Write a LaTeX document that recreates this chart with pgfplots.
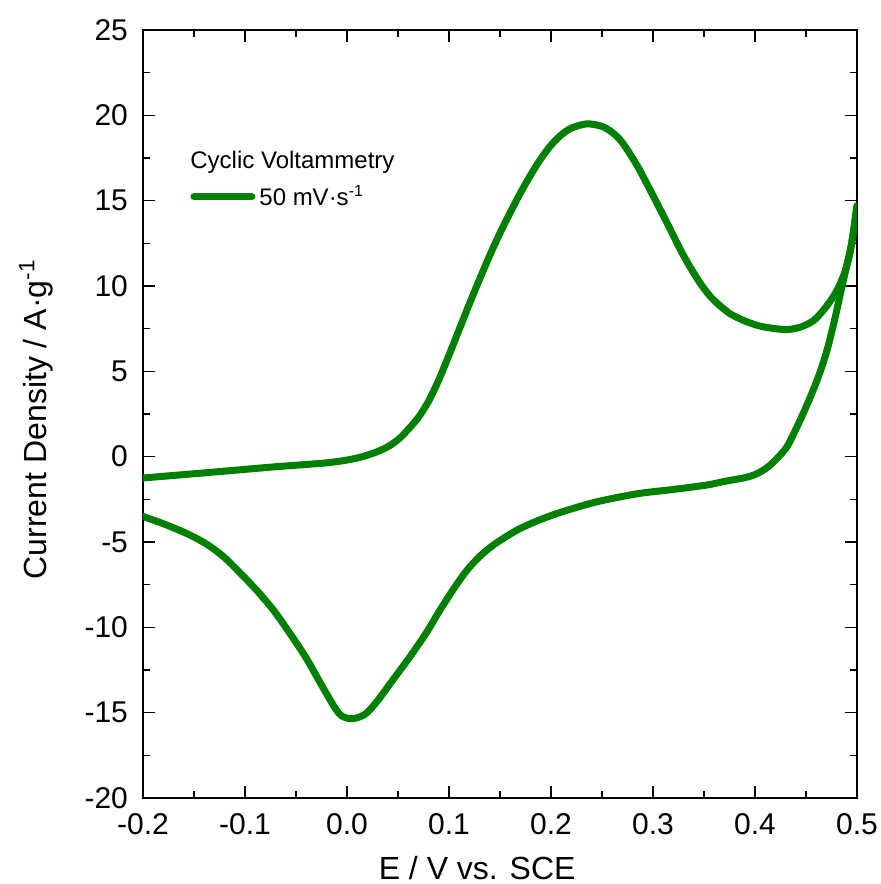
\documentclass[border=0pt]{standalone}
\usepackage{fontspec}
\setmainfont{Liberation Sans}
\usepackage{pgfplots}
\pgfplotsset{compat=1.18}
\definecolor{cvgreen}{RGB}{0,128,0}

\begin{document}
\begin{tikzpicture}
\begin{axis}[
  at={(0pt,0pt)}, anchor=south west,
  scale only axis, width=357pt, height=384pt,
  xmin=-0.2, xmax=0.5, ymin=-20, ymax=25,
  xtick={-0.2,-0.1,0,0.1,0.2,0.3,0.4,0.5},
  ytick={-20,-15,-10,-5,0,5,10,15,20,25},
  minor x tick num=1, minor y tick num=1,
  major tick length=6pt, minor tick length=3.5pt,
  tick align=inside,
  tick style={black, line width=0.75pt},
  axis line style={black, line width=1pt},
  /pgf/number format/assume math mode=true,
  xticklabel style={yshift=-4pt, /pgf/number format/.cd, fixed, fixed zerofill, precision=1},
  yticklabel style={xshift=-4pt, /pgf/number format/.cd, fixed, precision=0},
  ticklabel style={font=\fontsize{15}{18}\selectfont},
  xlabel={E / V vs. SCE},
  ylabel={Current Density / A·g\textsuperscript{-1}},
  xlabel style={at={(axis description cs:0.468,-0.1055)}, anchor=base, font=\fontsize{16}{19}\selectfont},
  ylabel style={at={(axis description cs:-0.1345,0.493)}, anchor=base, font=\fontsize{16}{19}\selectfont},
  legend image code/.code={\draw[#1, line cap=round] (0pt,0pt) -- (29pt,0pt);},
  legend style={at={(axis cs:-0.1539,15.23)}, anchor=west, draw=none, fill=none,
    inner xsep=0pt, inner ysep=0pt, font=\fontsize{12}{14}\selectfont},
  legend cell align=left,
]
\addplot[cvgreen, line width=3.5pt, line join=round, line cap=round, smooth, tension=0.5] table {
x y
-0.200 -1.25
-0.170 -1.10
-0.138 -0.94
-0.105 -0.77
-0.072 -0.60
-0.045 -0.48
-0.020 -0.36
0.000 -0.20
0.015 0.00
0.030 0.30
0.042 0.65
0.052 1.10
0.060 1.60
0.070 2.30
0.080 3.25
0.090 4.50
0.100 5.95
0.110 7.45
0.120 8.95
0.130 10.40
0.140 11.80
0.150 13.10
0.160 14.30
0.170 15.45
0.180 16.50
0.190 17.45
0.200 18.25
0.210 18.85
0.220 19.25
0.235 19.50
0.250 19.35
0.260 19.00
0.270 18.40
0.285 17.00
0.300 15.30
0.315 13.55
0.328 12.00
0.340 10.75
0.350 9.85
0.360 9.15
0.375 8.40
0.390 7.95
0.405 7.65
0.420 7.50
0.432 7.45
0.445 7.60
0.458 8.00
0.470 8.80
0.480 9.70
0.488 10.80
0.494 12.20
0.500 14.70
};
\addlegendentry{50 mV·s\textsuperscript{-1}}
\addplot[cvgreen, line width=3.5pt, line join=round, line cap=round, smooth, tension=0.5, forget plot] table {
x y
0.500 14.70
0.495 12.60
0.490 11.20
0.485 9.90
0.478 8.00
0.470 6.10
0.461 4.50
0.450 2.90
0.440 1.60
0.431 0.55
0.420 -0.20
0.411 -0.68
0.400 -1.05
0.390 -1.23
0.370 -1.45
0.353 -1.66
0.320 -1.92
0.287 -2.15
0.260 -2.45
0.238 -2.75
0.210 -3.25
0.189 -3.70
0.170 -4.20
0.157 -4.65
0.143 -5.20
0.130 -5.85
0.117 -6.70
0.104 -7.80
0.090 -9.10
0.078 -10.30
0.062 -11.70
0.045 -13.08
0.030 -14.30
0.019 -15.03
0.010 -15.30
0.003 -15.35
-0.005 -15.20
-0.012 -14.70
-0.026 -13.27
-0.040 -11.80
-0.056 -10.35
-0.072 -9.00
-0.089 -7.80
-0.105 -6.80
-0.121 -5.86
-0.137 -5.15
-0.154 -4.59
-0.177 -4.00
-0.200 -3.50
};
\node[anchor=base west, inner sep=0pt, font=\fontsize{12}{14}\selectfont] at (axis cs:-0.1539,16.9) {Cyclic Voltammetry};
\end{axis}
\pgfresetboundingbox
\path (-71.5pt,-43pt) rectangle (369pt,399pt);
\end{tikzpicture}
\end{document}
